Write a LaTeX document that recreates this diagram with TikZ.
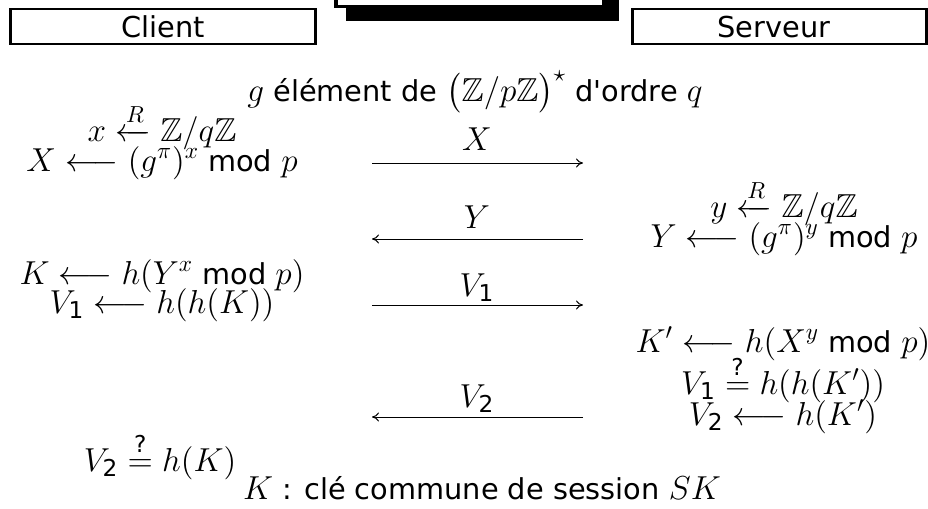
\documentclass[tikz,border=0pt]{standalone}
\usepackage{amsmath,amssymb}
\usepackage[no-math]{fontspec}
\setmainfont{DejaVu Sans}[Ligatures=TeXOff]
\DeclareFontShape{OT1}{cmr}{m}{n}{<-6>cmr5<6-7>cmr6<7-8>cmr7<8-9>cmr8<9-10>cmr9<10-12>cmr10<12->cmr12}{}
\DeclareFontShape{OML}{cmm}{m}{it}{<-6>cmmi5<6-7>cmmi6<7-8>cmmi7<8-9>cmmi8<9-10>cmmi9<10-12>cmmi10<12->cmmi12}{}
\DeclareFontShape{OMS}{cmsy}{m}{n}{<-6>cmsy5<6-7>cmsy6<7-8>cmsy7<8-9>cmsy8<9-10>cmsy9<10->cmsy10}{}
\DeclareFontShape{OMX}{cmex}{m}{n}{<->cmex10}{}
\DeclareFontFamily{U}{msb}{}
\DeclareFontShape{U}{msb}{m}{n}{<-6>msbm5<6-8>msbm7<8->msbm10}{}
\DeclareMathSizes{14.4}{16.6}{11.6}{8.3}
\usetikzlibrary{arrows.meta}
\newcommand{\md}{\text{ mod }}
\begin{document}
\begin{tikzpicture}[x=0.5pt,y=-0.5pt,
  txt/.style={anchor=base,inner sep=0pt,font=\fontsize{14.4}{17}\selectfont},
  hdr/.style={draw,line width=1.2pt},
  msg/.style={line width=0.5pt,-{To[length=3.5pt,width=4.5pt]}}]
\useasboundingbox (0,0) rectangle (928,509);
\clip (0,0) rectangle (928,509);
% header boxes
\draw[hdr] (10.5,8.8) rectangle (315.5,44.2);
\draw[hdr] (632.5,8.8) rectangle (926.5,44.2);
\fill[black] (346,-20) rectangle (619,20.7);
\draw[fill=white,line width=1.8pt] (336,-20) rectangle (604,6.3);
\node[txt] (client) at (163,37) {Client};
\node[txt] (serveur) at (774,37) {Serveur};
% title
\node[txt] (title) at (475,101) {$g$ élément de $\big(\mathbb{Z}/p\mathbb{Z}\big)^{\star}$ d'ordre $q$};
% left column
\node[txt] (l1) at (162,141) {$x \xleftarrow{R} \mathbb{Z}/q\mathbb{Z}$};
\node[txt] (l2) at (162,171) {$X \longleftarrow (g^{\pi})^{x}\md p$};
\node[txt] (l3) at (162,284) {$K \longleftarrow h(Y^{x}\md p)$};
\node[txt] (l4) at (162,313) {$V_{\text{1}} \longleftarrow h(h(K))$};
\node[txt] (l5) at (160,471) {$V_{\text{2}} \stackrel{\text{?}}{=} h(K)$};
% right column
\node[txt] (r1) at (784,217) {$y \xleftarrow{R} \mathbb{Z}/q\mathbb{Z}$};
\node[txt] (r2) at (784,247) {$Y \longleftarrow (g^{\pi})^{y}\md p$};
\node[txt] (r3) at (783,352) {$K' \longleftarrow h(X^{y}\md p)$};
\node[txt] (r4) at (783,394) {$V_{\text{1}} \stackrel{\text{?}}{=} h(h(K'))$};
\node[txt] (r5) at (783,425) {$V_{\text{2}} \longleftarrow h(K')$};
% footer
\node[txt] (foot) at (482,499) {$K$ : clé commune de session $SK$};
% messages
\coordinate (xa) at (372,163); \coordinate (xb) at (583,163);
\coordinate (ya) at (372,239); \coordinate (yb) at (583,239);
\coordinate (va) at (372,305); \coordinate (vb) at (583,305);
\coordinate (wa) at (372,417); \coordinate (wb) at (583,417);
\draw[msg] (xa) -- (xb);
\draw[msg] (yb) -- (ya);
\draw[msg] (va) -- (vb);
\draw[msg] (wb) -- (wa);
\node[txt] (lx) at (477,150) {$X$};
\node[txt] (ly) at (477,228) {$Y$};
\node[txt] (lv) at (477,296) {$V_{\text{1}}$};
\node[txt] (lw) at (477,407) {$V_{\text{2}}$};
\end{tikzpicture}
\end{document}
